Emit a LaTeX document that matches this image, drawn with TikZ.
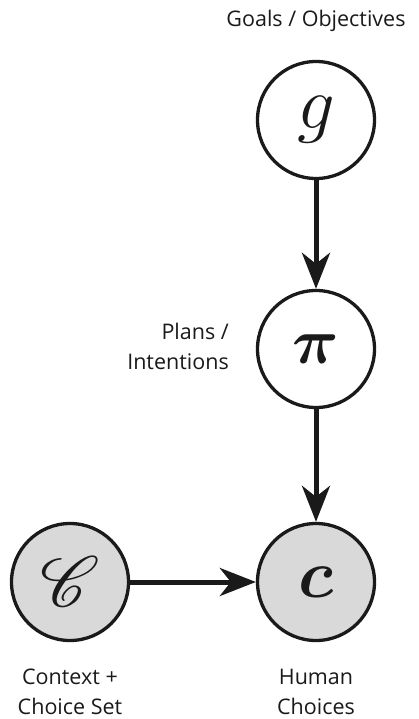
\documentclass[tikz,border=0pt]{standalone}
\usepackage{fontspec}
\setmainfont{Open Sans}
\usepackage{amsmath}
\usepackage{mathrsfs}
\usepackage{bm}
\usepackage{graphicx}
\usetikzlibrary{arrows.meta}
\definecolor{ink}{HTML}{1A1A1A}
\definecolor{obsfill}{HTML}{D9D9D9}
\newcommand{\bigmath}[2]{\scalebox{#1}{\Huge$#2$}}
\begin{document}
\begin{tikzpicture}[x=1pt,y=-1pt,
  var/.style={circle,draw=ink,line width=3.3pt,minimum size=117pt,inner sep=0pt,fill=white,text=ink},
  obs/.style={var,fill=obsfill},
  lbl/.style={font=\fontsize{21.5}{30}\selectfont,text=ink,inner sep=0pt},
  edge/.style={draw=ink,line width=5pt,-{Stealth[length=36pt,width=28pt,inset=11pt]}}]
\useasboundingbox (0,0) rectangle (419,719);
\node[var] (g) at (316,120) {\bigmath{3.0}{g}};
\node[var] (pi) at (316,349) {\bigmath{2.6}{\boldsymbol{\pi}}};
\node[obs] (c) at (316,582) {\bigmath{2.75}{\boldsymbol{c}}};
\node[obs] (C) at (70,582) {\bigmath{2.85}{\mathscr{C}}};
\node[lbl] (lg) at (316,21) {Goals / Objectives};
\node[lbl,align=right,anchor=east] (lpi) at (229,346) {Plans /\\Intentions};
\node[lbl,align=center] (lC) at (70,692) {Context +\\Choice Set};
\node[lbl,align=center] (lc) at (316,692) {Human\\Choices};
\draw[edge] (g) -- (pi);
\draw[edge] (pi) -- (c);
\draw[edge] (C) -- (c);
\end{tikzpicture}
\end{document}
